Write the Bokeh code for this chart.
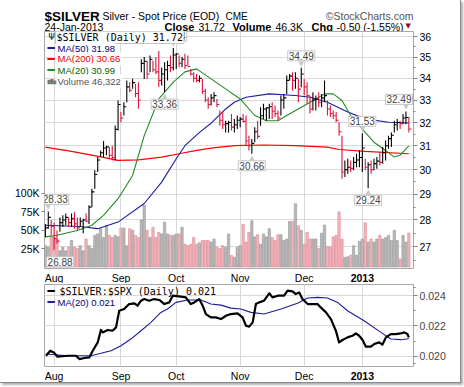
from bokeh.plotting import figure
from bokeh.models import (Range1d, LinearAxis, LogAxis, FixedTicker, Label,
                          ColumnDataSource, LinearScale, Grid)
from bokeh.layouts import column
from bokeh.core.properties import value
from bokeh.embed import file_html
from bokeh.resources import INLINE

# ---------------- data ----------------
month_idx = [3, 26, 45, 67, 89, 109]
month_labels = ["Aug", "Sep", "Oct", "Nov", "Dec", "2013"]
month_bold = [False, False, False, False, False, True]

high = [27.85, 28.33, 28.0, 27.9, 27.6, 28.1, 28.18, 28.25, 28.1, 28.25,
        28.3, 28.1, 28.1, 28.05, 28.25, 28.57, 29.22, 29.97, 30.52, 30.8,
        31.2, 31.0, 30.94, 31.0, 31.87, 32.98, 32.46, 32.9, 33.9, 33.82,
        33.98, 33.74, 33.82, 34.9, 35.0, 34.83, 35.08, 34.83, 35.0, 35.3,
        34.5, 34.75, 34.83, 35.08, 35.44, 35.2, 35.08, 35.0, 35.16, 35.08,
        34.44, 34.28, 34.2, 34.13, 33.97, 33.51, 33.13, 33.28, 33.36, 33.05,
        32.53, 32.46, 32.08, 32.08, 32.38, 32.16,
        32.31, 32.24, 32.38, 32.31, 31.43, 31.29, 31.79, 32.08, 32.68, 32.83,
        32.68, 32.83, 32.9, 32.75, 32.53, 33.21, 33.28, 34.13, 34.2, 34.28,
        34.28, 33.97, 34.49, 33.97, 33.82, 33.2, 33.36, 33.21, 33.36, 33.28,
        33.9, 32.98, 32.75, 32.53, 32.46, 32.01, 31.43, 30.38, 30.45, 30.38,
        30.52, 30.66, 30.8, 31.53, 30.45, 30.31, 30.38, 30.45, 30.52, 30.73,
        30.94, 31.22, 31.43, 31.57, 32.08, 32.16, 32.08, 32.38, 32.49, 32.24]
low = [27.35, 27.67, 27.42, 26.88, 27.1, 27.55, 27.73, 27.8, 27.73, 27.73,
       27.67, 27.6, 27.73, 27.5, 27.92, 27.85, 28.5, 29.22, 29.9, 30.52,
       30.52, 30.6, 30.45, 30.38, 30.38, 31.65, 32.01, 32.31, 32.9, 33.36,
       33.51, 33.13, 32.61, 34.28, 33.97, 33.97, 34.28, 34.28, 34.2, 33.6,
       33.66, 33.36, 33.9, 34.28, 34.36, 34.44, 34.52, 34.52, 34.44, 34.6,
       34.13, 33.82, 33.82, 33.82, 33.28, 32.9, 32.61, 32.75, 32.9, 32.68,
       31.86, 31.72, 31.57, 31.57, 31.65, 31.57,
       31.72, 31.79, 32.01, 31.0, 30.8, 30.66, 31.15, 31.29, 31.86, 32.16,
       32.08, 32.16, 32.16, 32.24, 32.08, 32.31, 32.61, 33.28, 33.9, 33.44,
       33.51, 32.9, 33.59, 33.21, 32.83, 32.4, 32.53, 32.53, 32.68, 32.68,
       32.9, 32.31, 32.24, 32.16, 32.01, 31.43, 29.63, 29.7, 29.83, 29.9,
       29.97, 30.1, 30.1, 29.9, 29.97, 29.24, 29.83, 29.97, 30.04, 30.17,
       30.24, 30.38, 30.87, 30.94, 31.57, 31.65, 31.72, 31.93, 31.93, 31.57]
close = [27.7, 28.1, 27.75, 27.3, 27.2, 27.9, 28.0, 28.1, 27.9, 28.05,
         27.85, 27.7, 27.95, 28.0, 27.95, 28.5, 29.1, 29.8, 30.4, 30.7,
         30.9, 30.95, 30.6, 30.5, 31.7, 32.8, 32.2, 32.7, 33.6, 33.45,
         33.8, 33.3, 33.0, 34.7, 34.8, 34.2, 34.9, 34.4, 34.3, 33.9,
         34.2, 34.4, 34.6, 34.5, 35.1, 35.15, 34.7, 34.9, 34.6, 34.55,
         34.2, 34.0, 33.9, 34.0, 33.4, 33.0, 32.8, 33.1, 33.2, 32.8,
         32.1, 31.9, 31.95, 32.0, 31.8, 31.9,
         32.1, 32.15, 32.05, 31.2, 31.0, 31.1, 31.6, 31.4, 32.3, 32.6,
         32.65, 32.7, 32.5, 32.4, 32.2, 33.0, 33.1, 33.9, 34.1, 33.9,
         34.0, 33.5, 34.2, 33.6, 33.2, 32.6, 33.0, 33.05, 32.9, 33.1,
         33.2, 32.6, 32.4, 32.3, 32.1, 31.6, 29.9, 30.0, 30.1, 30.05,
         30.3, 30.4, 30.5, 30.9, 30.1, 30.2, 30.0, 30.25, 30.35, 30.3,
         30.7, 31.0, 31.3, 31.45, 31.9, 32.0, 31.95, 32.2, 32.22, 31.72]
volume_k = [29, 27, 41, 40, 38, 22, 27, 22, 27, 36, 27, 25, 29, 22, 38, 29,
            25, 43, 45, 52, 40, 56, 43, 40, 43, 41, 53, 53, 29, 52, 50, 43,
            40, 64, 84, 50, 40, 54, 40, 47, 45, 61, 45, 43, 43, 45, 45, 54,
            31, 29, 31, 40, 31, 33, 36, 36, 36, 34, 38, 27, 25, 29, 27, 45,
            15.6, 13.4, 27, 29, 58, 34, 47, 63, 41, 44,
            31, 45, 41, 52, 40, 36, 44, 44, 36, 38,
            62, 62, 86, 56, 50, 31, 47, 38, 38, 38,
            25, 46, 57, 28, 27, 41, 43, 75, 38, 13,
            14, 16, 29, 16, 35, 38, 60, 34, 38, 34,
            38, 43, 38, 40, 43, 36, 50, 36, 11, 43,
            34, 46.322]

ma50_idx = [0, 12, 18, 25, 34, 40, 45, 48, 53, 57, 62, 65, 69, 77, 86, 91,
            97, 104, 110, 118, 125]
ma50_val = [27.8, 27.75, 27.67, 27.92, 28.64, 29.49, 30.45, 31.0, 31.57,
            31.97, 32.6, 32.9, 33.13, 33.28, 33.21, 33.13, 32.9, 32.46,
            32.16, 32.01, 31.98]
ma200_idx = [0, 8, 16, 25, 32, 40, 46, 52, 57, 65, 75, 86, 97, 101, 110, 125]
ma200_val = [30.94, 30.78, 30.6, 30.38, 30.4, 30.52, 30.66, 30.8, 30.9, 31.0,
             31.03, 31.0, 30.94, 30.84, 30.76, 30.66]
ma20_idx = [0, 4, 11, 16, 20, 25, 30, 34, 39, 44, 48, 52, 57, 62, 67, 72,
            76, 80, 83, 88, 93, 96, 99, 102, 105, 110, 113, 117, 120, 122, 125]
ma20_val = [27.36, 27.42, 27.6, 27.8, 28.18, 28.83, 29.76, 31.43, 33.05,
            33.82, 34.3, 34.44, 33.97, 33.51, 33.05, 32.31, 32.08, 32.08,
            32.31, 32.68, 33.05, 33.28, 33.28, 32.98, 32.31, 31.57, 31.15,
            30.8, 30.52, 30.6, 30.99]

ratio_idx = [0.2, 1.7, 2.9, 4.2, 7.7, 10.5, 11.7, 13.4, 15.1, 16.3, 18, 19.1,
             19.7, 21.4, 23.1, 24.3, 25.4, 27.1, 28.8, 30.6, 31.7, 32.9, 34,
             35.7, 37.4, 39.2, 40.9, 42.6, 43.8, 46.6, 48.3, 50, 51.2, 52.9,
             54.1, 55.2, 56.9, 58.6, 60.4, 62.1,
             63.8, 66.1, 67.8, 69, 70.1, 71.3, 72.4, 73.5, 75.2, 77, 78.1,
             79.9, 82.1, 83.3, 85, 86.1, 87.3, 88.4, 90.2, 91.9, 93.6, 94.7,
             96.5, 98.2, 99.9, 101, 102.2, 103.9, 105.6, 106.8, 107.9, 109.1,
             110.2, 111.9, 113.1, 114.8, 115.9, 117.1, 118.8, 120.5, 122.2,
             123.4, 124.5, 125]
ratio_val = [0.02003, 0.02036, 0.02025, 0.01997, 0.02003, 0.02003, 0.01981,
             0.01988, 0.01992, 0.02036, 0.02091, 0.02173, 0.02157, 0.02173,
             0.02168, 0.0219, 0.023, 0.02311, 0.02344, 0.02349, 0.02333,
             0.02366, 0.02377, 0.02366, 0.02377, 0.02371, 0.02344, 0.02355,
             0.02399, 0.02393, 0.02388, 0.02344, 0.02355, 0.02377, 0.02333,
             0.02278, 0.02256, 0.02256, 0.02245, 0.02267,
             0.02278, 0.02283, 0.02256, 0.02201, 0.02195, 0.02223, 0.02344,
             0.02355, 0.02366, 0.02415, 0.02388, 0.02399, 0.02399, 0.02432,
             0.02428, 0.0241, 0.02421, 0.02377, 0.02344, 0.02344, 0.02344,
             0.02322, 0.02289, 0.02245, 0.02168, 0.02091, 0.02107, 0.02124,
             0.02135, 0.0215, 0.02135, 0.02107, 0.02063, 0.02063, 0.0208,
             0.02091, 0.02076, 0.02124, 0.02146, 0.02146, 0.0215, 0.02157,
             0.02146, 0.02124]
ratio_ma_idx = [0.2, 7.7, 15.7, 19.1, 22.6, 26, 29.4, 32.9, 36.3, 39.7, 42,
                44.9, 48.9, 53.5, 56.9, 60.4, 63.8, 67.2, 70.7, 75.2, 81,
                86.7, 90.2, 93.6, 97, 100.5, 103.9, 109.6, 115.4, 118.8,
                122.2, 125]
ratio_ma_val = [0.02014, 0.02003, 0.02003, 0.02019, 0.02036, 0.02069,
                0.02113, 0.02168, 0.02223, 0.02289, 0.02311, 0.02355,
                0.02371, 0.02371, 0.02344, 0.02337, 0.02317, 0.02311,
                0.02289, 0.02278, 0.02311, 0.02349, 0.02384, 0.02388,
                0.02384, 0.02355, 0.023, 0.02234, 0.02157, 0.02113,
                0.02109, 0.02115]

price_ticks = [27, 28, 29, 30, 31, 32, 33, 34, 35, 36]
price_minor = [26.5, 27.5, 28.5, 29.5, 30.5, 31.5, 32.5, 33.5, 34.5, 35.5]
vol_ticks = [25000, 50000, 75000, 100000]
vol_tick_labels = ["25K", "50K", "75K", "100K"]
ratio_ticks = [0.020, 0.022, 0.024]
ratio_minor = [0.0195, 0.021, 0.023, 0.0245]
ratio_tick_labels = ["0.020", "0.022", "0.024"]

callout_idx = [1, 3, 41, 44, 71, 88, 109, 111, 124]
callout_kind = ["high", "low", "low", "high", "low", "high", "high", "low", "high"]
callout_dx = [7, 6, 0, 0, 0, 0, 0, 0, -7]

ticker_name = "$SILVER"
ticker_desc = "Silver - Spot Price (EOD)"
exchange = "CME"
date_text = "24-Jan-2013"
ratio_name = "$SILVER:$SPX"
ratio_last = 0.021
ratio_ma_last = 0.021

# ---------------- styles ----------------
FONT = "Liberation Sans"
MONO = "DejaVu Sans Mono"
GRID = "#d9d9d9"
FRAME = "#a8a8a8"
UP = "#000000"
DOWN = "#dc143c"
C50 = "#1c1c9c"
C200 = "#ff0000"
C20 = "#228b22"
W = 460
BL, BR = 44, 47
HH = 31

n = len(close)
idx = list(range(n))
up = [True] + [close[i] >= close[i - 1] for i in range(1, n)]
bar_col = [UP if u else DOWN for u in up]
vol_fill = ["#b9b9b9" if u else "#f2b5bb" for u in up]
vol_line = ["#969696" if u else "#dd8590" for u in up]
volume = [v * 1000 for v in volume_k]

chg = close[-1] - close[-2]
pct = chg / close[-2] * 100

# ---------------- header ----------------
# frame spans the same pixels as the chart frames; x data == page pixels
hdr = figure(width=W, height=HH, x_range=Range1d(BL, W - BR), y_range=Range1d(HH, 0),
             x_axis_location=None, y_axis_location=None, toolbar_location=None,
             output_backend="svg", min_border_left=BL, min_border_right=BR,
             min_border_top=0, min_border_bottom=0, outline_line_color=None)
hdr.grid.visible = False


def htext(x, y, t, size, bold=False, color="#000000", align="left", font=FONT):
    hdr.text(x=[x], y=[y], text=[t], text_font=value(font), text_font_size=size,
             text_font_style="bold" if bold else "normal", text_color=color,
             text_align=align, text_baseline="alphabetic")


htext(44, 15.5, ticker_name, "13.5px", bold=True)
htext(102, 15.5, ticker_desc, "10.5px")
htext(225, 15.5, exchange, "10px")
htext(413, 15.5, "\u00a9StockCharts.com", "10.5px", color="#555555", align="right")
htext(44, 26, date_text, "10.5px")
htext(164, 26, "Close", "11px", bold=True)
htext(198, 26, "%.2f" % close[-1], "10.5px")
htext(232, 26, "Volume", "11px", bold=True)
htext(275, 26, "%.1fK" % volume_k[-1], "10.5px")
htext(311, 26, "Chg", "11px", bold=True)
htext(336, 26, "%.2f (%.2f%%)" % (chg, pct), "10.5px")
htext(405, 25, "\u25bc", "7px", color="#990033", font="DejaVu Sans")

# ---------------- main panel ----------------
p1 = figure(width=W, height=238, x_range=Range1d(-0.3, 126.6),
            y_range=Range1d(26.2, 36.25), y_axis_type="log",
            x_axis_location=None, y_axis_location=None,
            toolbar_location=None, output_backend="svg",
            min_border_left=BL, min_border_right=BR, min_border_top=0,
            min_border_bottom=1, outline_line_color=FRAME)
p1.grid.visible = False
p1.extra_y_ranges = {"vol": Range1d(-2000, 320000)}
p1.extra_y_scales = {"vol": LinearScale()}

p1.add_layout(Grid(dimension=0, ticker=FixedTicker(ticks=month_idx), grid_line_color=GRID))
p1.add_layout(Grid(dimension=1, ticker=FixedTicker(ticks=price_ticks), grid_line_color=GRID))

pax = LogAxis(ticker=FixedTicker(ticks=price_ticks, minor_ticks=price_minor),
              major_label_overrides={t: str(t) for t in price_ticks})
vax = LinearAxis(y_range_name="vol", ticker=FixedTicker(ticks=vol_ticks),
                 major_label_overrides=dict(zip(vol_ticks, vol_tick_labels)))
for ax in (pax, vax):
    ax.axis_line_color = None
    ax.major_label_text_font = FONT
    ax.major_label_text_font_size = "10.5px"
    ax.major_label_text_color = "#000000"
    ax.major_tick_line_color = "#808080"
    ax.minor_tick_line_color = "#808080"
    ax.major_label_standoff = 2
pax.major_tick_out = 4
pax.major_tick_in = 0
pax.minor_tick_out = 2
pax.minor_tick_in = 0
vax.major_tick_out = 3
vax.major_tick_in = 0
vax.minor_tick_out = 0
vax.minor_tick_in = 0
p1.add_layout(pax, "right")
p1.add_layout(vax, "left")

src = ColumnDataSource(dict(x=idx, h=high, l=low, c=close, vol=volume,
                            col=bar_col, vf=vol_fill, vl=vol_line))
p1.vbar(x="x", top="vol", bottom=0, width=0.8, source=src, y_range_name="vol",
        fill_color="vf", line_color="vl", line_width=0.6)
p1.line(ma200_idx, ma200_val, line_color=C200, line_width=1.2)
p1.line(ma50_idx, ma50_val, line_color=C50, line_width=1.1)
p1.line(ma20_idx, ma20_val, line_color=C20, line_width=1.1)
p1.segment(x0="x", y0="l", x1="x", y1="h", line_color="col", line_width=1.1, source=src)
p1.ray(x="x", y="c", length=2.5, length_units="screen", angle=0,
       line_color="col", line_width=1.1, source=src)

# callouts
for i, kind, dx in zip(callout_idx, callout_kind, callout_dx):
    v = high[i] if kind == "high" else low[i]
    hi = kind == "high"
    p1.add_layout(Label(x=i, y=v, text="\u25bc" if hi else "\u25b2", text_font="DejaVu Sans",
                        text_font_size="7px", text_color="#c8c8c8",
                        text_align="center", text_baseline="bottom" if hi else "top",
                        y_offset=0))
    p1.add_layout(Label(x=i, y=v, text="%.2f" % v, text_font=FONT,
                        text_font_size="10px", text_align="center",
                        text_baseline="bottom" if hi else "top",
                        x_offset=dx, y_offset=7 if hi else -7,
                        background_fill_color="white",
                        border_line_color="#c4c4c4", padding=1))


def leg(fig, xo, yo, t, color, font=FONT, size="9.5px", bg=True, border=None):
    fig.add_layout(Label(x=fig.x_range.start, y=fig.y_range.end, x_offset=xo, y_offset=-yo,
                         text=t, text_font=font, text_font_size=size, text_color=color,
                         text_align="left", text_baseline="middle",
                         background_fill_color="white" if bg else None,
                         border_line_color=border, padding=1))


leg(p1, 11, 5.5, "%s (Daily) %.2f" % (ticker_name, close[-1]), "#000000",
    font=MONO, size="10px", border="#c4c4c4")
leg(p1, 3, 5.5, "\u03a8", "#000000", font="DejaVu Sans", size="8px", bg=False)
leg(p1, 2, 16.7, "\u2501", C50, font=MONO, size="12px", bg=False)
leg(p1, 12, 16.7, "MA(50) %.2f" % ma50_val[-1], "#000080")
leg(p1, 2, 27.3, "\u2501", C200, font=MONO, size="12px", bg=False)
leg(p1, 12, 27.3, "MA(200) %.2f" % ma200_val[-1], "#e00000")
leg(p1, 2, 38.5, "\u2501", C20, font=MONO, size="12px", bg=False)
leg(p1, 12, 38.5, "MA(20) %.2f" % ma20_val[-1], "#006400")
leg(p1, 2, 49.5, "\u2586\u2587\u2585", "#777777", font=MONO, size="5px", bg=False)
leg(p1, 12, 49.5, "Volume {:,}".format(int(round(volume[-1]))), "#555555")


# ---------------- month label strips ----------------
def month_strip(height, ymid):
    s = figure(width=W, height=height, x_range=p1.x_range, y_range=Range1d(height, 0),
               x_axis_location=None, y_axis_location=None, toolbar_location=None,
               output_backend="svg", min_border_left=BL, min_border_right=BR,
               min_border_top=0, min_border_bottom=0, outline_line_color=None)
    s.grid.visible = False
    norm = [(m, l) for m, l, b in zip(month_idx, month_labels, month_bold) if not b]
    bold = [(m, l) for m, l, b in zip(month_idx, month_labels, month_bold) if b]
    s.text(x=[m for m, _ in norm], y=[ymid] * len(norm), text=[l for _, l in norm],
           text_font=value(FONT), text_font_size="10.5px", text_align="center",
           text_baseline="middle", text_color="#000000")
    s.text(x=[m for m, _ in bold], y=[ymid] * len(bold), text=[l for _, l in bold],
           text_font=value(FONT), text_font_size="10.5px", text_font_style="bold",
           text_align="center", text_baseline="middle", text_color="#000000")
    return s


strip1 = month_strip(14, 8)

# ---------------- ratio panel ----------------
p2 = figure(width=W, height=84, x_range=p1.x_range,
            y_range=Range1d(0.01932, 0.02473),
            x_axis_location=None, y_axis_location=None,
            toolbar_location=None, output_backend="svg",
            min_border_left=BL, min_border_right=BR, min_border_top=1,
            min_border_bottom=1, outline_line_color=FRAME)
p2.grid.visible = False
p2.add_layout(Grid(dimension=0, ticker=FixedTicker(ticks=month_idx), grid_line_color=GRID))
p2.add_layout(Grid(dimension=1, ticker=FixedTicker(ticks=ratio_ticks), grid_line_color=GRID))
rax = LinearAxis(ticker=FixedTicker(ticks=ratio_ticks, minor_ticks=ratio_minor),
                 major_label_overrides=dict(zip(ratio_ticks, ratio_tick_labels)))
rax.axis_line_color = None
rax.major_label_text_font = FONT
rax.major_label_text_font_size = "10.5px"
rax.major_tick_line_color = "#808080"
rax.minor_tick_line_color = "#808080"
rax.major_label_standoff = 2
rax.major_tick_out = 4
rax.major_tick_in = 0
rax.minor_tick_out = 2
rax.minor_tick_in = 0
p2.add_layout(rax, "right")

p2.line(ratio_ma_idx, ratio_ma_val, line_color="#1c1c9c", line_width=1.1)
p2.line(ratio_idx, ratio_val, line_color="#000000", line_width=2.2, line_join="round")

leg(p2, 2, 6.7, "\u2501", "#000000", font=MONO, size="12px", bg=False)
leg(p2, 14, 6.7, "%s (Daily) %.3f" % (ratio_name, ratio_last), "#000000", font=MONO, size="10px", bg=False)
leg(p2, 2, 17.7, "\u2501", "#1c1c9c", font=MONO, size="12px", bg=False)
leg(p2, 12, 17.7, "MA(20) %.3f" % ratio_ma_last, "#000080", bg=False)

strip2 = month_strip(15, 8)

layout = column(hdr, p1, strip1, p2, strip2, spacing=0,
                styles={"border-right": "1px solid #8c8c8c",
                        "border-bottom": "1px solid #8c8c8c",
                        "box-shadow": "2px 2px 2px #b0b0b0"})
open("out.html", "w").write(file_html(layout, INLINE))
